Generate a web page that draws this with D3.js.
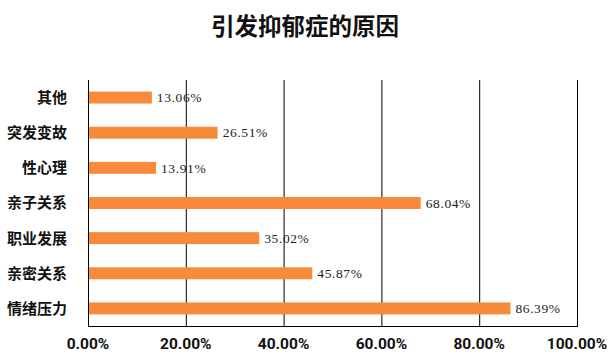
<!DOCTYPE html>
<html><head><meta charset="utf-8">
<script src="https://cdn.jsdelivr.net/npm/d3@7"></script>
<style>body{margin:0;background:#fff}</style>
</head><body>
<svg id="c" width="608" height="364"></svg>
<script>
const categories = ["其他","突发变故","性心理","亲子关系","职业发展","亲密关系","情绪压力"];
const values = [13.06, 26.51, 13.91, 68.04, 35.02, 45.87, 86.39];
const ticks = [0, 20, 40, 60, 80, 100];

(function () {
const svg = d3.select("#c");
const mLeft = 88, mRight = 577, mTop = 80, mBottom = 326;
const x = d3.scaleLinear().domain([0, 100]).range([mLeft, mRight]);
const y = d3.scaleBand().domain(categories).range([mTop, mBottom]).paddingInner(0.66).paddingOuter(0.33);

svg.append("text").attr("x", 305).attr("y", 35).attr("text-anchor", "middle")
  .attr("font-family", "Noto Sans CJK SC").attr("font-weight", "bold").attr("font-size", 23.5)
  .attr("fill", "#111").text("引发抑郁症的原因");

// gridlines
svg.append("g").selectAll("line").data(ticks).join("line")
  .attr("x1", d => x(d) + 0.5).attr("x2", d => x(d) + 0.5)
  .attr("y1", mTop).attr("y2", mBottom)
  .attr("stroke", "#000").attr("stroke-width", 1);
svg.append("line").attr("x1", mLeft).attr("x2", mRight + 1).attr("y1", mBottom + 0.5).attr("y2", mBottom + 0.5)
  .attr("stroke", "#000").attr("stroke-width", 1);

// bars
svg.append("g").selectAll("rect").data(values).join("rect")
  .attr("x", x(0) + 1).attr("y", (d, i) => y(categories[i]))
  .attr("width", d => x(d) - x(0) - 1).attr("height", y.bandwidth())
  .attr("fill", "#f78a3b");

// value labels
svg.append("g").selectAll("text").data(values).join("text")
  .attr("x", d => x(d) + 5).attr("y", (d, i) => y(categories[i]) + y.bandwidth() / 2)
  .attr("dy", "0.35em").attr("font-family", "Liberation Serif").attr("font-size", 13.5)
  .attr("letter-spacing", 0.6).attr("fill", "#222")
  .text(d => d.toFixed(2) + "%");

// category labels
svg.append("g").selectAll("text").data(categories).join("text")
  .attr("x", 67).attr("y", d => y(d) + y.bandwidth() / 2).attr("dy", "0.36em")
  .attr("text-anchor", "end").attr("font-family", "Noto Sans CJK SC").attr("font-weight", "bold")
  .attr("font-size", 15).attr("fill", "#111").text(d => d);

// tick labels
svg.append("g").selectAll("text").data(ticks).join("text")
  .attr("x", d => x(d)).attr("y", 349)
  .attr("text-anchor", "middle").attr("font-family", "Roboto").attr("font-weight", "bold")
  .attr("font-size", 15.5).attr("fill", "#111").text(d => d.toFixed(2) + "%");
})();
</script>
</body></html>
